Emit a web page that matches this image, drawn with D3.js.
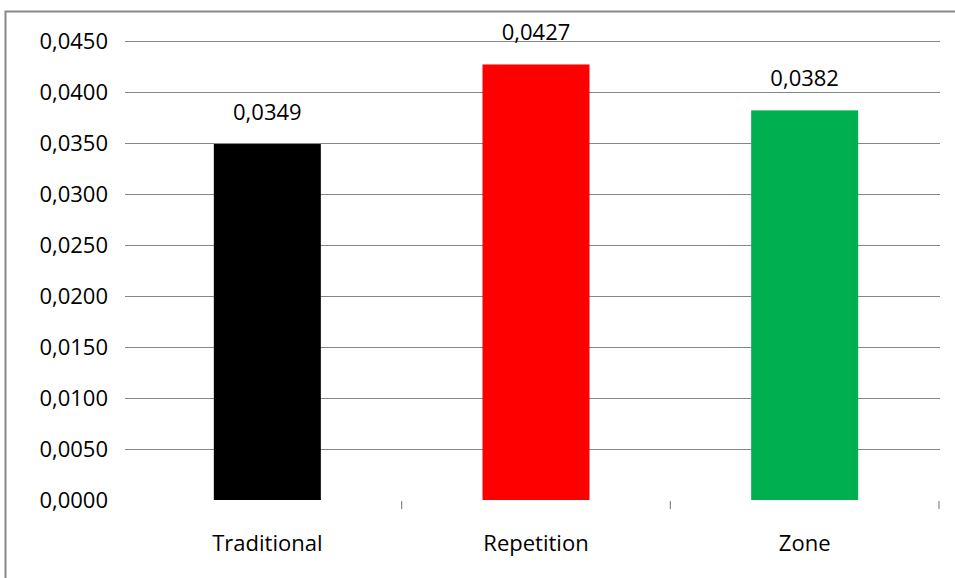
<!DOCTYPE html>
<html><head><meta charset="utf-8">
<script src="https://cdn.jsdelivr.net/npm/d3@7"></script>
<style>body{margin:0;background:#fff}svg{display:block}text{font-family:"Open Sans",sans-serif}</style>
</head><body><svg id="c" width="955" height="578"></svg>
<script>
const categories = ["Traditional", "Repetition", "Zone"];
const values = [0.0349, 0.0427, 0.0382];
const colors = ["#000000", "#ff0000", "#00b050"];
const yTicks = [0, 0.005, 0.01, 0.015, 0.02, 0.025, 0.03, 0.035, 0.04, 0.045];

const svg = d3.select("#c");
const fmt = v => d3.format(".4f")(v).replace(".", ",");
const x0 = 133, x1 = 939, yTop = 41, yBot = 500;
const x = d3.scaleBand().domain(categories).range([x0, x1]).paddingInner(0.6).paddingOuter(0.3);
const y = d3.scaleLinear().domain([0, 0.045]).range([yBot, yTop]);

// frame
svg.append("rect").attr("x", 5.5).attr("y", 11.5).attr("width", 960).attr("height", 600)
  .attr("fill", "none").attr("stroke", "#888").attr("stroke-width", 2);

// gridlines
svg.append("g").selectAll("line").data(yTicks.filter(d => d > 0)).join("line")
  .attr("x1", 125).attr("x2", x1 + 1).attr("y1", d => Math.round(y(d)) + 0.5).attr("y2", d => Math.round(y(d)) + 0.5)
  .attr("stroke", "#868686").attr("stroke-width", 1);

// y labels
svg.append("g").selectAll("text").data(yTicks).join("text")
  .attr("x", 108).attr("y", d => y(d)).attr("dy", "0.35em").attr("text-anchor", "end")
  .attr("font-size", 22).attr("fill", "#000").text(fmt);

// category tick marks (between categories)
const step = x.step();
const tickX = [x0, x0 + (x1 - x0) / 3, x0 + 2 * (x1 - x0) / 3, x1];
svg.append("g").selectAll("line").data(tickX.slice(1)).join("line")
  .attr("x1", d => d).attr("x2", d => d).attr("y1", yBot + 1).attr("y2", yBot + 9)
  .attr("stroke", "#868686").attr("stroke-width", 1.2);

const xc = d3.scaleBand().domain(categories).range([x0, x1]);
const bw = 107;
svg.append("g").selectAll("rect").data(values).join("rect")
  .attr("x", (d, i) => xc(categories[i]) + xc.bandwidth() / 2 - bw / 2)
  .attr("width", bw)
  .attr("y", d => y(d)).attr("height", d => yBot - y(d))
  .attr("fill", (d, i) => colors[i]);

svg.append("g").selectAll("text").data(values).join("text")
  .attr("x", (d, i) => xc(categories[i]) + xc.bandwidth() / 2)
  .attr("y", d => y(d) - 24).attr("text-anchor", "middle")
  .attr("font-size", 22).attr("fill", "#000").text(fmt);

svg.append("g").selectAll("text").data(categories).join("text")
  .attr("x", d => xc(d) + xc.bandwidth() / 2).attr("y", 551).attr("text-anchor", "middle")
  .attr("font-size", 22).attr("fill", "#000").text(d => d);
</script></body></html>
